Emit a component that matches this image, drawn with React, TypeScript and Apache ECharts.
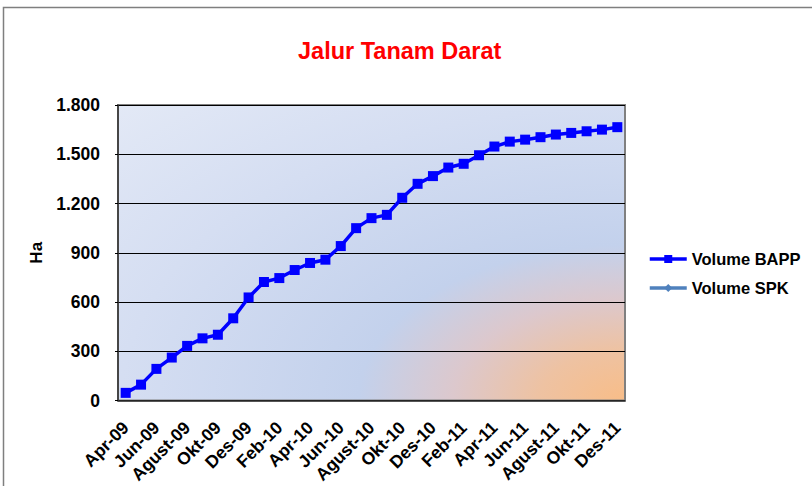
import React, { useEffect, useRef } from "react";
import * as echarts from "echarts";

const categories = [
  "Apr-09", "Mei-09", "Jun-09", "Jul-09", "Agust-09", "Sep-09", "Okt-09", "Nov-09", "Des-09",
  "Jan-10", "Feb-10", "Mar-10", "Apr-10", "Mei-10", "Jun-10", "Jul-10", "Agust-10", "Sep-10",
  "Okt-10", "Nov-10", "Des-10", "Jan-11", "Feb-11", "Mar-11", "Apr-11", "Mei-11", "Jun-11",
  "Jul-11", "Agust-11", "Sep-11", "Okt-11", "Nov-11", "Des-11",
];

const volumeBAPP = [
  47, 97, 193, 262, 333, 379, 401, 501, 628, 722, 746, 795, 838, 858, 941, 1050, 1111,
  1131, 1235, 1320, 1367, 1419, 1442, 1494, 1547, 1577, 1589, 1604, 1620, 1630, 1640, 1650, 1665,
];

const volumeSPK: (number | null)[] = categories.map(() => null);

const seriesNames = ["Volume BAPP", "Volume SPK"];
const titleText = "Jalur Tanam Darat";
const yAxisName = "Ha";

const FONT = "'Liberation Sans', Arial, sans-serif";

export default function App() {
  const ref = useRef<HTMLDivElement>(null);

  useEffect(() => {
    if (!ref.current) return;
    const chart = echarts.init(ref.current, undefined, { renderer: "svg" });
    const bg = new echarts.graphic.RadialGradient(1, 1, 1.42, [
      { offset: 0, color: "#f8bd88" },
      { offset: 0.12, color: "#eec2a2" },
      { offset: 0.24, color: "#dcc8cd" },
      { offset: 0.37, color: "#c3d1ec" },
      { offset: 0.7, color: "#d5def2" },
      { offset: 1, color: "#e3e9f6" },
    ]);
    chart.setOption({
      animation: false,
      backgroundColor: "#ffffff",
      textStyle: { fontFamily: FONT },
      title: {
        text: titleText,
        left: 293,
        top: 34,
        textStyle: { color: "#ff0000", fontSize: 23.5, fontWeight: "bold", fontFamily: FONT },
      },
      graphic: [
        {
          type: "rect",
          shape: { x: 3.5, y: 7.5, width: 900, height: 600 },
          style: { fill: "none", stroke: "#7f7f7f", lineWidth: 1.5 },
          silent: true,
        },
      ],
      legend: {
        orient: "vertical",
        left: 643,
        top: 245,
        itemWidth: 37,
        itemHeight: 10,
        itemGap: 11,
        data: [
          { name: seriesNames[0], lineStyle: { width: 3.5, color: "#0000ff" } },
          { name: seriesNames[1], lineStyle: { width: 3.5, color: "#4f81bd" } },
        ],
        textStyle: { fontSize: 16.5, fontWeight: "bold", color: "#000", fontFamily: FONT, lineHeight: 18 },
      },
      grid: {
        left: 118,
        top: 105,
        width: 507,
        height: 296,
        show: true,
        backgroundColor: bg,
        borderColor: "#808080",
        borderWidth: 2,
      },
      xAxis: {
        type: "category",
        data: categories,
        boundaryGap: true,
        axisLine: { lineStyle: { color: "#333", width: 1.5 } },
        axisTick: { show: false },
        axisLabel: {
          interval: 1,
          rotate: 45,
          margin: 24,
          fontSize: 17.5,
          fontWeight: "bold",
          color: "#000",
          fontFamily: FONT,
        },
      },
      yAxis: {
        type: "value",
        min: 0,
        max: 1800,
        interval: 300,
        name: yAxisName,
        nameLocation: "middle",
        nameRotate: 90,
        nameGap: 72,
        nameTextStyle: { fontSize: 17, fontWeight: "bold", color: "#000", fontFamily: FONT },
        axisLine: { show: true, lineStyle: { color: "#333", width: 1.5 } },
        axisTick: { show: true, length: 3, lineStyle: { color: "#000" } },
        splitLine: { lineStyle: { color: "#000", width: 1 } },
        axisLabel: {
          margin: 18,
          fontSize: 17.5,
          fontWeight: "bold",
          color: "#000",
          fontFamily: FONT,
          formatter: (v: number) => String(v).replace(/\B(?=(\d{3})+(?!\d))/g, "."),
        },
      },
      series: [
        {
          name: seriesNames[0],
          type: "line",
          data: volumeBAPP,
          symbol: "rect",
          symbolSize: 10,
          color: "#0000ff",
          itemStyle: { color: "#0000ff" },
          lineStyle: { color: "#0000ff", width: 3.5 },
        },
        {
          name: seriesNames[1],
          type: "line",
          data: volumeSPK,
          symbol: "diamond",
          symbolSize: 10,
          color: "#4f81bd",
          itemStyle: { color: "#4f81bd" },
          lineStyle: { color: "#4f81bd", width: 3.5 },
        },
      ],
    });
    return () => chart.dispose();
  }, []);

  return (
    <div
      ref={ref}
      style={{ position: "fixed", left: 0, top: 0, width: 812, height: 486 }}
    />
  );
}
